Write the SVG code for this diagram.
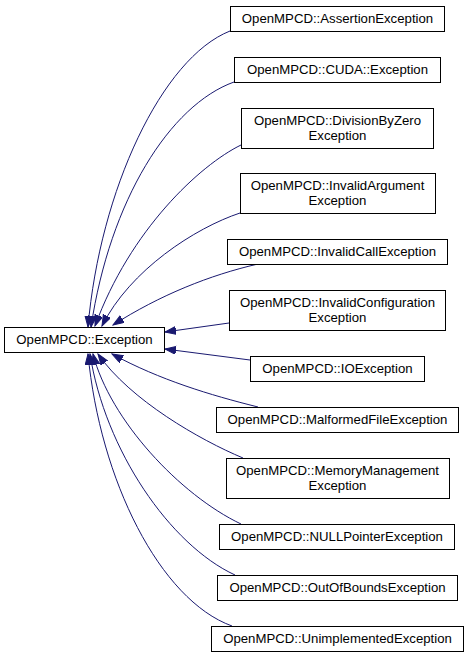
<svg xmlns="http://www.w3.org/2000/svg" width="468" height="657" viewBox="0 0 468 657">
<style>
.box{fill:#fff;stroke:#000;stroke-width:1}
.lbl{font-family:"Liberation Sans",Arial,sans-serif;font-size:13.2px;fill:#000;text-anchor:middle}
.edge{fill:none;stroke:#191970;stroke-width:1;marker-end:url(#ah)}
</style>
<defs>
<marker id="ah" markerUnits="userSpaceOnUse" markerWidth="12" markerHeight="9" refX="11" refY="4" orient="auto">
<path d="M0,0 L11,4 L0,8 z" fill="#191970" stroke="#191970" stroke-width="1"/>
</marker>
</defs>
<rect width="468" height="657" fill="#fff"/>
<g id="edges">
<path class="edge" d="M230,31 C162,58 100,190 88,327"/>
<path class="edge" d="M234,82 C170,105 110,200 91,327"/>
<path class="edge" d="M241,145 C200,165 130,230 95,326"/>
<path class="edge" d="M240,213 C195,228 130,270 102,326"/>
<path class="edge" d="M258,264 C210,275 160,295 113,325"/>
<path class="edge" d="M229,323 L165,332"/>
<path class="edge" d="M250,360 L165,349"/>
<path class="edge" d="M258,407 C210,395 160,380 112,354"/>
<path class="edge" d="M243,458 C200,440 130,400 98,354"/>
<path class="edge" d="M241,524 C180,495 110,420 93,354"/>
<path class="edge" d="M235,575 C170,545 105,450 90,354"/>
<path class="edge" d="M232,626 C160,600 100,480 88,354"/>
</g>
<g id="n_assertion"><rect class="box" x="230.5" y="6.5" width="214" height="25"/><text class="lbl" x="337.5" y="22.5">OpenMPCD::AssertionException</text></g>
<g id="n_cuda"><rect class="box" x="234.5" y="57.5" width="206" height="25"/><text class="lbl" x="337.5" y="73.5">OpenMPCD::CUDA::Exception</text></g>
<g id="n_divzero"><rect class="box" x="241.5" y="108.5" width="192" height="40"/><text class="lbl" x="337.5" y="124.5">OpenMPCD::DivisionByZero</text><text class="lbl" x="337.5" y="139.5">Exception</text></g>
<g id="n_invarg"><rect class="box" x="240.5" y="173.5" width="195" height="40"/><text class="lbl" x="337.5" y="189.5">OpenMPCD::InvalidArgument</text><text class="lbl" x="337.5" y="204.5">Exception</text></g>
<g id="n_invcall"><rect class="box" x="227.5" y="239.5" width="220" height="25"/><text class="lbl" x="337.5" y="255.5">OpenMPCD::InvalidCallException</text></g>
<g id="n_invconf"><rect class="box" x="229.5" y="290.5" width="216" height="40"/><text class="lbl" x="337.5" y="306.5">OpenMPCD::InvalidConfiguration</text><text class="lbl" x="337.5" y="321.5">Exception</text></g>
<g id="n_exception"><rect class="box" x="4.5" y="327.5" width="160" height="25"/><text class="lbl" x="84.5" y="344">OpenMPCD::Exception</text></g>
<g id="n_io"><rect class="box" x="250.5" y="356.5" width="174" height="25"/><text class="lbl" x="337.5" y="373">OpenMPCD::IOException</text></g>
<g id="n_malformed"><rect class="box" x="216.5" y="407.5" width="242" height="25"/><text class="lbl" x="337.5" y="423.5">OpenMPCD::MalformedFileException</text></g>
<g id="n_memory"><rect class="box" x="226.5" y="458.5" width="223" height="40"/><text class="lbl" x="337.5" y="474.5">OpenMPCD::MemoryManagement</text><text class="lbl" x="337.5" y="489.5">Exception</text></g>
<g id="n_null"><rect class="box" x="219.5" y="524.5" width="235" height="25"/><text class="lbl" x="337" y="541">OpenMPCD::NULLPointerException</text></g>
<g id="n_outofbounds"><rect class="box" x="217.5" y="575.5" width="240" height="25"/><text class="lbl" x="337.5" y="592">OpenMPCD::OutOfBoundsException</text></g>
<g id="n_unimpl"><rect class="box" x="211.5" y="626.5" width="252" height="25"/><text class="lbl" x="337.5" y="642.5">OpenMPCD::UnimplementedException</text></g>
</svg>
